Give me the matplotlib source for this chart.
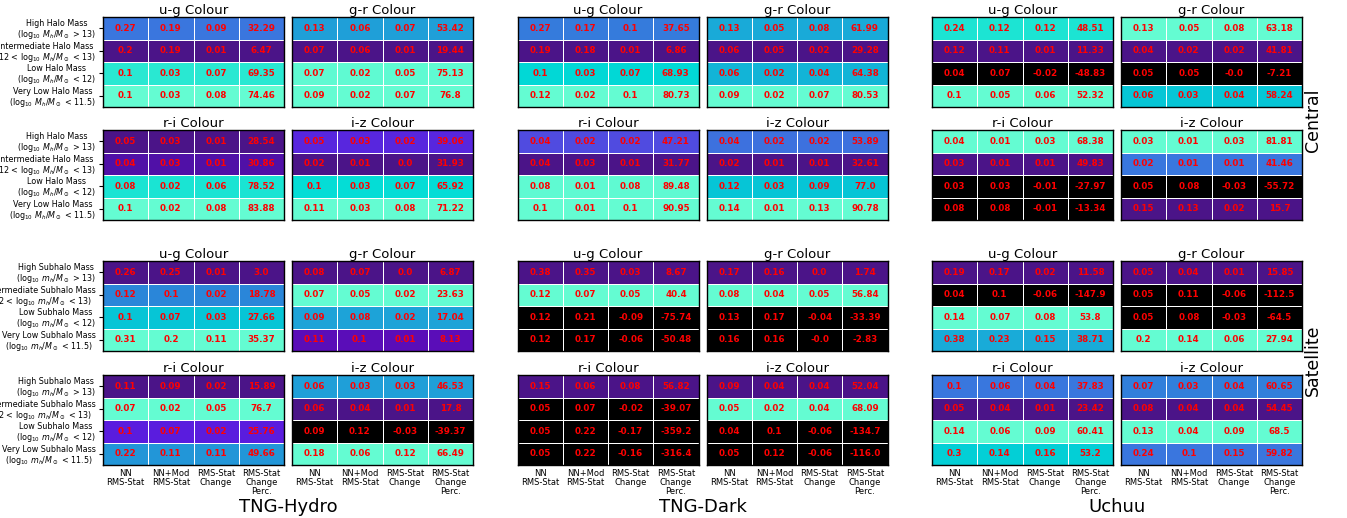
import numpy as np
import matplotlib
matplotlib.use('Agg')
import matplotlib.pyplot as plt
from matplotlib.colors import LinearSegmentedColormap, Normalize

# ---- labels ----
sims = ['TNG-Hydro', 'TNG-Dark', 'Uchuu']
colour_pairs = [['u-g', 'g-r'], ['r-i', 'i-z'], ['u-g', 'g-r'], ['r-i', 'i-z']]
galaxy_types = ['Central', 'Central', 'Satellite', 'Satellite']
col_labels = ['NN\nRMS-Stat', 'NN+Mod\nRMS-Stat', 'RMS-Stat\nChange', 'RMS-Stat\nChange\nPerc.']
central_labels = [
    'High Halo Mass\n(log$_{10}$ $M_h/M_\\odot$ > 13)',
    'Intermediate Halo Mass\n(12 < log$_{10}$ $M_h/M_\\odot$ < 13)',
    'Low Halo Mass\n(log$_{10}$ $M_h/M_\\odot$ < 12)',
    'Very Low Halo Mass\n(log$_{10}$ $M_h/M_\\odot$ < 11.5)',
]
satellite_labels = [
    'High Subhalo Mass\n(log$_{10}$ $m_h/M_\\odot$ > 13)',
    'Intermediate Subhalo Mass\n(12 < log$_{10}$ $m_h/M_\\odot$ < 13)',
    'Low Subhalo Mass\n(log$_{10}$ $m_h/M_\\odot$ < 12)',
    'Very Low Subhalo Mass\n(log$_{10}$ $m_h/M_\\odot$ < 11.5)',
]

# ---- values: rows = mass bins, cols = NN, NN+Mod, change, change perc. ----
hydro_cen_ug = [[0.27, 0.19, 0.09, 32.29], [0.2, 0.19, 0.01, 6.47], [0.1, 0.03, 0.07, 69.35], [0.1, 0.03, 0.08, 74.46]]
hydro_cen_gr = [[0.13, 0.06, 0.07, 53.42], [0.07, 0.06, 0.01, 19.44], [0.07, 0.02, 0.05, 75.13], [0.09, 0.02, 0.07, 76.8]]
hydro_cen_ri = [[0.05, 0.03, 0.01, 28.54], [0.04, 0.03, 0.01, 30.86], [0.08, 0.02, 0.06, 78.52], [0.1, 0.02, 0.08, 83.88]]
hydro_cen_iz = [[0.05, 0.03, 0.02, 39.06], [0.02, 0.01, 0.0, 31.93], [0.1, 0.03, 0.07, 65.92], [0.11, 0.03, 0.08, 71.22]]

dark_cen_ug = [[0.27, 0.17, 0.1, 37.65], [0.19, 0.18, 0.01, 6.86], [0.1, 0.03, 0.07, 68.93], [0.12, 0.02, 0.1, 80.73]]
dark_cen_gr = [[0.13, 0.05, 0.08, 61.99], [0.06, 0.05, 0.02, 29.28], [0.06, 0.02, 0.04, 64.38], [0.09, 0.02, 0.07, 80.53]]
dark_cen_ri = [[0.04, 0.02, 0.02, 47.21], [0.04, 0.03, 0.01, 31.77], [0.08, 0.01, 0.08, 89.48], [0.1, 0.01, 0.1, 90.95]]
dark_cen_iz = [[0.04, 0.02, 0.02, 53.89], [0.02, 0.01, 0.01, 32.61], [0.12, 0.03, 0.09, 77.0], [0.14, 0.01, 0.13, 90.78]]

uchuu_cen_ug = [[0.24, 0.12, 0.12, 48.51], [0.12, 0.11, 0.01, 11.33], [0.04, 0.07, -0.02, -48.83], [0.1, 0.05, 0.06, 52.32]]
uchuu_cen_gr = [[0.13, 0.05, 0.08, 63.18], [0.04, 0.02, 0.02, 41.81], [0.05, 0.05, -0.0, -7.21], [0.06, 0.03, 0.04, 58.24]]
uchuu_cen_ri = [[0.04, 0.01, 0.03, 68.38], [0.03, 0.01, 0.01, 49.83], [0.03, 0.03, -0.01, -27.97], [0.08, 0.08, -0.01, -13.34]]
uchuu_cen_iz = [[0.03, 0.01, 0.03, 81.81], [0.02, 0.01, 0.01, 41.46], [0.05, 0.08, -0.03, -55.72], [0.15, 0.13, 0.02, 15.7]]

hydro_sat_ug = [[0.26, 0.25, 0.01, 3.0], [0.12, 0.1, 0.02, 18.78], [0.1, 0.07, 0.03, 27.66], [0.31, 0.2, 0.11, 35.37]]
hydro_sat_gr = [[0.08, 0.07, 0.0, 6.87], [0.07, 0.05, 0.02, 23.63], [0.09, 0.08, 0.02, 17.04], [0.11, 0.1, 0.01, 8.13]]
hydro_sat_ri = [[0.11, 0.09, 0.02, 15.89], [0.07, 0.02, 0.05, 76.7], [0.1, 0.07, 0.02, 25.76], [0.22, 0.11, 0.11, 49.66]]
hydro_sat_iz = [[0.06, 0.03, 0.03, 46.53], [0.06, 0.04, 0.01, 17.8], [0.09, 0.12, -0.03, -39.37], [0.18, 0.06, 0.12, 66.49]]

dark_sat_ug = [[0.38, 0.35, 0.03, 8.67], [0.12, 0.07, 0.05, 40.4], [0.12, 0.21, -0.09, -75.74], [0.12, 0.17, -0.06, -50.48]]
dark_sat_gr = [[0.17, 0.16, 0.0, 1.74], [0.08, 0.04, 0.05, 56.84], [0.13, 0.17, -0.04, -33.39], [0.16, 0.16, -0.0, -2.83]]
dark_sat_ri = [[0.15, 0.06, 0.08, 56.82], [0.05, 0.07, -0.02, -39.07], [0.05, 0.22, -0.17, -359.2], [0.05, 0.22, -0.16, -316.4]]
dark_sat_iz = [[0.09, 0.04, 0.04, 52.04], [0.05, 0.02, 0.04, 68.09], [0.04, 0.1, -0.06, -134.7], [0.05, 0.12, -0.06, -116.0]]

uchuu_sat_ug = [[0.19, 0.17, 0.02, 11.58], [0.04, 0.1, -0.06, -147.9], [0.14, 0.07, 0.08, 53.8], [0.38, 0.23, 0.15, 38.71]]
uchuu_sat_gr = [[0.05, 0.04, 0.01, 15.85], [0.05, 0.11, -0.06, -112.5], [0.05, 0.08, -0.03, -64.5], [0.2, 0.14, 0.06, 27.94]]
uchuu_sat_ri = [[0.1, 0.06, 0.04, 37.83], [0.05, 0.04, 0.01, 23.42], [0.14, 0.06, 0.09, 60.41], [0.3, 0.14, 0.16, 53.2]]
uchuu_sat_iz = [[0.07, 0.03, 0.04, 60.65], [0.08, 0.04, 0.04, 54.45], [0.13, 0.04, 0.09, 68.5], [0.24, 0.1, 0.15, 59.82]]

# lookup: [figure row][sim][panel]
grid = [
    [[hydro_cen_ug, hydro_cen_gr], [dark_cen_ug, dark_cen_gr], [uchuu_cen_ug, uchuu_cen_gr]],
    [[hydro_cen_ri, hydro_cen_iz], [dark_cen_ri, dark_cen_iz], [uchuu_cen_ri, uchuu_cen_iz]],
    [[hydro_sat_ug, hydro_sat_gr], [dark_sat_ug, dark_sat_gr], [uchuu_sat_ug, uchuu_sat_gr]],
    [[hydro_sat_ri, hydro_sat_iz], [dark_sat_ri, dark_sat_iz], [uchuu_sat_ri, uchuu_sat_iz]],
]

# colour scale (purple -> blue -> cyan -> aquamarine), negatives black
cmap = LinearSegmentedColormap.from_list('rms', [
    (0.00, '#4b1488'), (0.04, '#5010a8'), (0.08, '#5c0cba'), (0.16, '#5a1cde'),
    (0.26, '#504ce0'), (0.38, '#3a76de'), (0.50, '#2888d8'), (0.62, '#1ca6d8'),
    (0.78, '#04c8d6'), (0.86, '#00dcd6'), (0.92, '#22e6d2'), (0.97, '#5efad2'),
    (1.00, '#64fcd2'),
])
cmap.set_bad('black')

W, H = 1347, 518
fig = plt.figure(figsize=(W / 100, H / 100), dpi=100)

panel_w, panel_h = 181, 90
sim_left = [103, 517.5, 932]
row_top = [17, 130, 261, 375]


def draw_panel(ax, table, title, ylabels=None, show_x=False):
    table = np.array(table)
    perc = table[:, 3]
    pos = perc[perc >= 0]
    norm = Normalize(pos.min(), pos.max())
    shade = np.ma.masked_less(np.repeat(perc[:, None], 4, axis=1), 0)
    ax.pcolormesh(shade, cmap=cmap, norm=norm, edgecolors='white', linewidth=0.6)
    for i in range(4):
        for j in range(4):
            ax.text(j + 0.5, i + 0.5, str(table[i, j]), ha='center', va='center',
                    color='red', fontsize=6.3, fontweight='bold')
    ax.set_xlim(0, 4)
    ax.set_ylim(4, 0)
    ax.set_title(title, fontsize=9.5, pad=1.5)
    ax.set_xticks(np.arange(4) + 0.5)
    if show_x:
        ax.set_xticklabels(col_labels, fontsize=6, multialignment='center', linespacing=1.0)
    else:
        ax.set_xticklabels([])
    ax.tick_params(axis='x', length=0, pad=3)
    ax.set_yticks(np.arange(4) + 0.5)
    if ylabels is not None:
        ax.set_yticklabels(ylabels, fontsize=5.8, multialignment='center', linespacing=1.0)
        ax.tick_params(axis='y', length=3, width=0.8, pad=2)
    else:
        ax.set_yticklabels([])
        ax.tick_params(axis='y', length=0)
    for sp in ax.spines.values():
        sp.set_linewidth(1.0)
        sp.set_color('black')


for r in range(4):
    for s in range(3):
        for p in range(2):
            left = sim_left[s] + p * 189
            top = row_top[r]
            ax = fig.add_axes([left / W, 1 - (top + panel_h) / H, panel_w / W, panel_h / H])
            ylab = None
            if s == 0 and p == 0:
                ylab = central_labels if galaxy_types[r] == 'Central' else satellite_labels
            draw_panel(ax, grid[r][s][p], f'{colour_pairs[r][p]} Colour',
                       ylabels=ylab, show_x=(r == 3))

for s, name in enumerate(sims):
    cx = sim_left[s] + (189 + panel_w) / 2
    fig.text(cx / W, 1 - 507 / H, name, ha='center', va='center', fontsize=13)

fig.text(1313 / W, 1 - 120 / H, 'Central', rotation=90, ha='center', va='center', fontsize=12.5)
fig.text(1313 / W, 1 - 360 / H, 'Satellite', rotation=90, ha='center', va='center', fontsize=12.5)

fig.savefig('out.png', dpi=100)
plt.close(fig)
